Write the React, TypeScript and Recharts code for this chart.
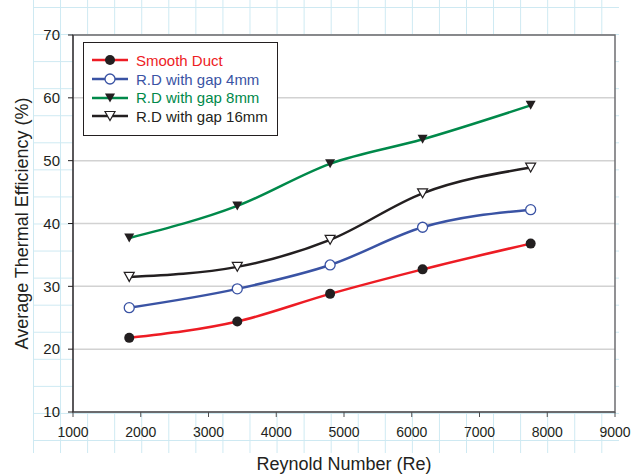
import React from 'react';
import {
  LineChart,
  Line,
  XAxis,
  YAxis,
  CartesianGrid,
  Legend,
  ReferenceArea,
} from 'recharts';

// Reynolds numbers where measurements were taken
const reynolds = [1830, 3425, 4795, 6160, 7755];

// Average thermal efficiency (%) per configuration
const smoothDuct = [21.8, 24.4, 28.8, 32.7, 36.8];
const gap4mm = [26.6, 29.6, 33.4, 39.4, 42.2];
const gap8mm = [37.7, 42.8, 49.5, 53.4, 58.8];
const gap16mm = [31.5, 33.1, 37.4, 44.8, 48.9];

const seriesNames = ['Smooth Duct', 'R.D with gap 4mm', 'R.D with gap 8mm', 'R.D with gap 16mm'];

const xTicks = [1000, 2000, 3000, 4000, 5000, 6000, 7000, 8000, 9000];
const yTicks = [10, 20, 30, 40, 50, 60, 70];

const data = reynolds.map((re, i) => ({
  re,
  smooth: smoothDuct[i],
  gap4: gap4mm[i],
  gap8: gap8mm[i],
  gap16: gap16mm[i],
}));

const INK = '#231f20';
const FONT = '"Liberation Sans", Arial, Helvetica, sans-serif';

const series = [
  { key: 'smooth', name: seriesNames[0], color: '#ed1c24', marker: 'dot' },
  { key: 'gap4', name: seriesNames[1], color: '#3a53a4', marker: 'ring' },
  { key: 'gap8', name: seriesNames[2], color: '#00894a', marker: 'tri' },
  { key: 'gap16', name: seriesNames[3], color: INK, marker: 'openTri' },
];

function Marker({ kind, color, cx, cy }) {
  if (kind === 'dot') return <circle cx={cx} cy={cy} r={5} fill={INK} />;
  if (kind === 'ring')
    return <circle cx={cx} cy={cy} r={5} fill="#fff" stroke={color} strokeWidth={1.3} />;
  const pts = `${cx - 5},${cy - 4.5} ${cx + 5},${cy - 4.5} ${cx},${cy + 4.5}`;
  if (kind === 'tri') return <polygon points={pts} fill={INK} />;
  return <polygon points={pts} fill="#fff" stroke={INK} strokeWidth={1.2} />;
}

const makeDot = (kind, color) => (props) => {
  const { cx, cy, index } = props;
  if (cx == null || cy == null) return <g key={`${kind}-${index}`} />;
  return (
    <g key={`${kind}-${index}`}>
      <Marker kind={kind} color={color} cx={cx} cy={cy} />
    </g>
  );
};

const LegendBox = () => (
  <div
    style={{
      border: `1px solid ${INK}`,
      background: '#fff',
      width: 195,
      height: 94,
      boxSizing: 'border-box',
      padding: '8px 0 0 8px',
      fontFamily: FONT,
    }}
  >
    {series.map((s) => (
      <div
        key={s.key}
        style={{ display: 'flex', alignItems: 'center', height: 18.7, color: s.color, fontSize: 15 }}
      >
        <svg width={36} height={14} style={{ flex: 'none' }}>
          <line x1={0} x2={36} y1={7} y2={7} stroke={s.color} strokeWidth={2.5} />
          <Marker kind={s.marker} color={s.color} cx={18} cy={7} />
        </svg>
        <span style={{ marginLeft: 8, whiteSpace: 'nowrap' }}>{s.name}</span>
      </div>
    ))}
  </div>
);

const YTitle = ({ viewBox }) => {
  const cx = viewBox.x + 28;
  const cy = viewBox.y + viewBox.height / 2;
  return (
    <text
      x={cx}
      y={cy}
      transform={`rotate(-90 ${cx} ${cy})`}
      textAnchor="middle"
      fontSize={18}
      fill={INK}
      fontFamily={FONT}
    >
      Average Thermal Efficiency (%)
    </text>
  );
};

export default function App() {
  return (
    <div style={{ position: 'absolute', left: 0, top: 0, width: 631, height: 475, background: '#fff', fontFamily: FONT }}>
      {/* graph paper behind the figure */}
      <div
        style={{
          position: 'absolute',
          left: 33,
          top: 0,
          width: 586,
          height: 453,
          backgroundImage:
            'linear-gradient(to right, #cde9f2 1px, transparent 1px), linear-gradient(to bottom, #cde9f2 1px, transparent 1px)',
          backgroundSize: '27.07px 27.07px',
          backgroundPosition: '0 0, 0 7px',
        }}
      />
      <div style={{ position: 'absolute', left: 0, top: 0 }}>
        <LineChart width={631} height={475} data={data} margin={{ top: 35, right: 16, bottom: 0, left: 0 }}>
          <CartesianGrid vertical={false} stroke="#d2d2d2" strokeWidth={1.5} fill="#fff" />
          <ReferenceArea x1={1000} x2={9000} y1={10} y2={70} fill="none" stroke="#6d6e71" strokeWidth={1.5} />
          <XAxis
            dataKey="re"
            type="number"
            domain={[1000, 9000]}
            ticks={xTicks}
            interval={0}
            height={63}
            tickSize={5}
            tickMargin={10}
            stroke="#4d4d4f"
            tick={{ fill: INK, fontSize: 14, fontFamily: FONT }}
            label={{ value: 'Reynold Number (Re)', position: 'insideBottom', offset: 5, fontSize: 18, fill: INK, fontFamily: FONT }}
          />
          <YAxis
            type="number"
            domain={[10, 70]}
            ticks={yTicks}
            interval={0}
            width={73}
            tickSize={5}
            tickMargin={8}
            stroke={INK}
            tick={{ fill: INK, fontSize: 15, fontFamily: FONT }}
            label={<YTitle />}
          />
          <Legend
            layout="vertical"
            align="center"
            verticalAlign="middle"
            content={<LegendBox />}
            wrapperStyle={{ left: 83, top: 42, width: 'auto', height: 'auto' }}
          />
          {series.map((s) => (
            <Line
              key={s.key}
              dataKey={s.key}
              name={s.name}
              type="monotone"
              stroke={s.color}
              strokeWidth={2.5}
              dot={makeDot(s.marker, s.color)}
              activeDot={false}
              isAnimationActive={false}
            />
          ))}
        </LineChart>
      </div>
    </div>
  );
}
